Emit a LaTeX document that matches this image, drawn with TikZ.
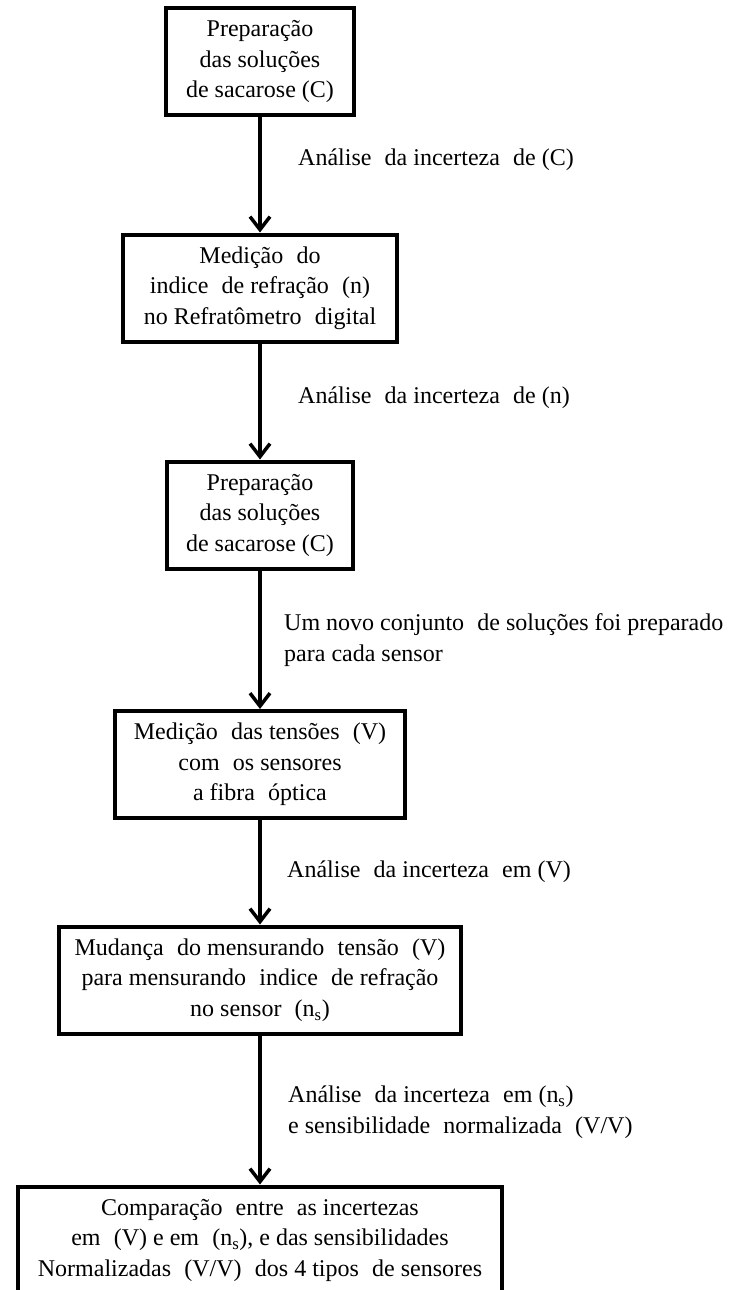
\documentclass[tikz,border=0pt]{standalone}
\usepackage{fontspec}
\setmainfont{Liberation Serif}
\usetikzlibrary{arrows.meta}
\newcommand{\xs}{\hspace{0.3em}}
\begin{document}
\begin{tikzpicture}[x=1pt,y=-1pt,
  box/.style={draw, line width=4pt, minimum height=107pt, inner sep=0pt, align=center, font=\fontsize{24}{30.5}\selectfont},
  lbl/.style={anchor=west, align=left, inner sep=0pt, font=\fontsize{24}{30.5}\selectfont},
  flow/.style={line width=4pt, -{Straight Barb[length=13pt,width=20pt,line width=3.5pt]}}]
\useasboundingbox (0,0) rectangle (741,1290);
\fill[white] (0,0) rectangle (741,1290);

\node[box, minimum width=188pt] (b1) at (260,61.5) {Preparação\\das soluções\\de sacarose (C)};
\node[box, minimum width=274pt] (b2) at (260,288) {Medição\xs{} do\\indice\xs{} de refração\xs{} (n)\\no Refratômetro\xs{} digital};
\node[box, minimum width=186pt] (b3) at (260,515) {Preparação\\das soluções\\de sacarose (C)};
\node[box, minimum width=290pt] (b4) at (260,764.5) {Medição\xs{} das tensões\xs{} (V)\\com\xs{} os sensores\\a fibra\xs{} óptica};
\node[box, minimum width=402pt] (b5) at (260,980) {Mudança\xs{} do mensurando\xs{} tensão\xs{} (V)\\para mensurando\xs{} indice\xs{} de refração\\no sensor\xs{} (n\textsubscript{s})};
\node[box, minimum width=484pt] (b6) at (260,1240) {Comparação\xs{} entre\xs{} as incertezas\\em\xs{} (V) e em\xs{} (n\textsubscript{s}), e das sensibilidades\\Normalizadas\xs{} (V/V)\xs{} dos 4 tipos\xs{} de sensores};

\draw[flow] (b1.south) -- (b2.north);
\draw[flow] (b2.south) -- (b3.north);
\draw[flow] (b3.south) -- (b4.north);
\draw[flow] (b4.south) -- (b5.north);
\draw[flow] (b5.south) -- (b6.north);

\node[lbl] (l1) at (298,160) {Análise\xs{} da incerteza\xs{} de (C)};
\node[lbl] (l2) at (298,398) {Análise\xs{} da incerteza\xs{} de (n)};
\node[lbl] (l3) at (284,640) {Um novo conjunto\xs{} de soluções foi preparado\\para cada sensor};
\node[lbl] (l4) at (287,872) {Análise\xs{} da incerteza\xs{} em (V)};
\node[lbl] (l5) at (288,1112) {Análise\xs{} da incerteza\xs{} em (n\textsubscript{s})\\e sensibilidade\xs{} normalizada\xs{} (V/V)};
\end{tikzpicture}
\end{document}
